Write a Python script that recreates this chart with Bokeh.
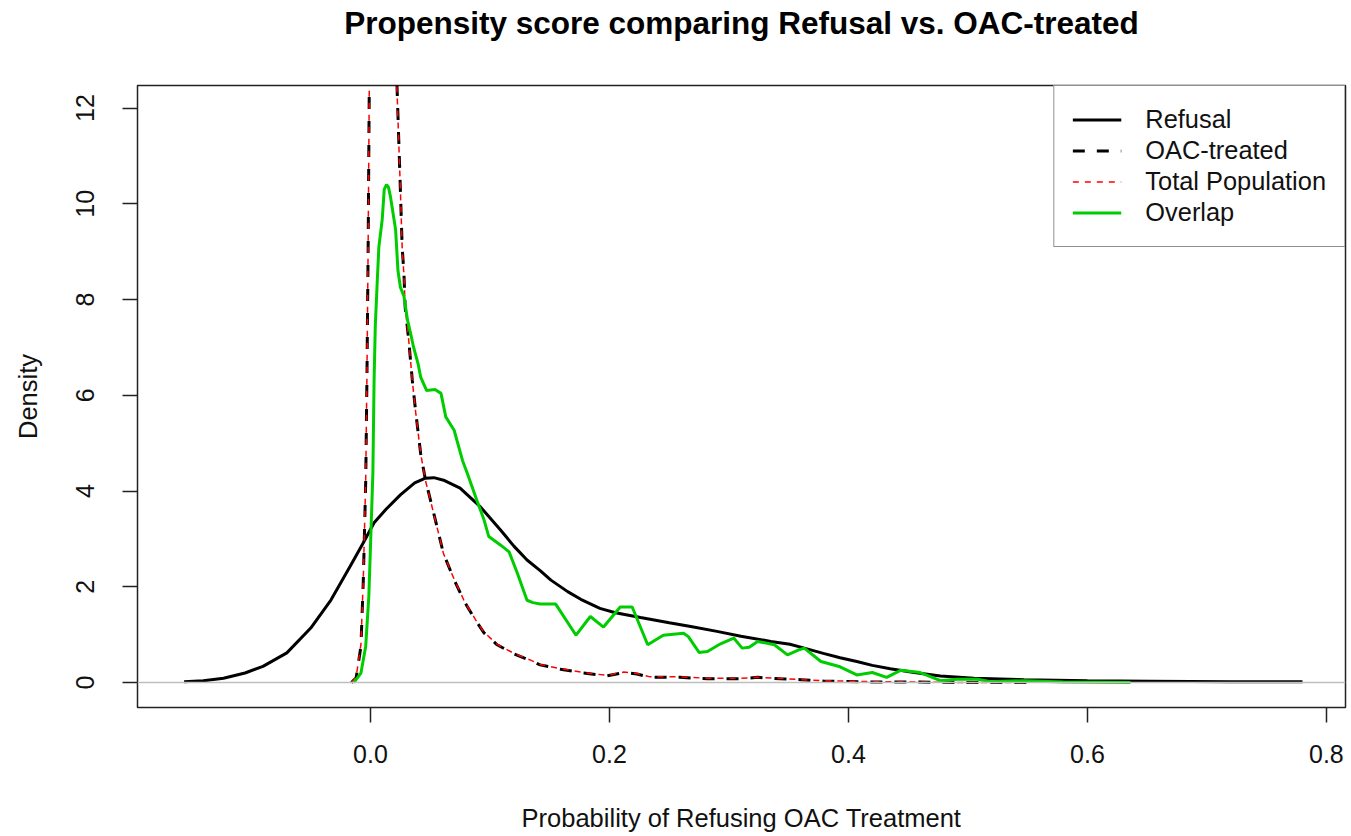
from bokeh.plotting import figure
from bokeh.models import Range1d, FixedTicker, Span, Legend, LegendItem, Title
from bokeh.embed import file_html
from bokeh.resources import INLINE

FONT = "Liberation Sans"

title_text = "Propensity score comparing Refusal vs. OAC-treated"
x_label = "Probability of Refusing OAC Treatment"
y_label = "Density"
series_names = ["Refusal", "OAC-treated", "Total Population", "Overlap"]
x_ticks = [0.0, 0.2, 0.4, 0.6, 0.8]
x_tick_labels = ["0.0", "0.2", "0.4", "0.6", "0.8"]
y_ticks = [0, 2, 4, 6, 8, 10, 12]

refusal_x = [-0.156, -0.14, -0.123, -0.105, -0.09, -0.07, -0.05, -0.033, -0.017, -0.006,
             0.003, 0.013, 0.025, 0.037, 0.046, 0.053, 0.062, 0.075, 0.092, 0.109,
             0.12, 0.131, 0.142, 0.151, 0.165, 0.176, 0.192, 0.205, 0.226, 0.25,
             0.268, 0.29, 0.31, 0.335, 0.351, 0.36, 0.379, 0.393, 0.407, 0.42,
             0.435, 0.455, 0.477, 0.505, 0.547, 0.6, 0.653, 0.72, 0.78]
refusal_y = [0.02, 0.04, 0.09, 0.2, 0.34, 0.62, 1.14, 1.73, 2.43, 2.92,
             3.34, 3.62, 3.92, 4.17, 4.27, 4.28, 4.22, 4.06, 3.67, 3.18,
             2.85, 2.56, 2.34, 2.14, 1.90, 1.74, 1.55, 1.46, 1.36, 1.25,
             1.17, 1.07, 0.97, 0.86, 0.80, 0.74, 0.61, 0.52, 0.44, 0.36,
             0.29, 0.21, 0.14, 0.09, 0.06, 0.04, 0.03, 0.02, 0.02]

oac_x = [-0.016, -0.012, -0.008, -0.006, -0.004, -0.003, -0.002, -0.001, 0.002, 0.008,
         0.014, 0.019, 0.022, 0.025, 0.0265, 0.028, 0.029, 0.032, 0.035, 0.038,
         0.042, 0.046, 0.053, 0.061, 0.07, 0.078, 0.081, 0.088, 0.095, 0.106,
         0.12, 0.134, 0.142, 0.159, 0.178, 0.198, 0.212, 0.223, 0.234, 0.259,
         0.282, 0.31, 0.324, 0.343, 0.36, 0.38, 0.42, 0.46, 0.5, 0.55]
oac_y = [0.0, 0.1, 0.76, 2.15, 4.2, 6.3, 9.0, 12.5, 17.0, 20.0,
         19.0, 15.0, 12.6, 10.3, 9.1, 8.54, 7.84, 7.15, 6.31, 5.62,
         4.78, 4.23, 3.53, 2.7, 2.15, 1.72, 1.59, 1.3, 1.04, 0.79,
         0.6, 0.46, 0.37, 0.28, 0.2, 0.14, 0.21, 0.18, 0.11, 0.11,
         0.08, 0.08, 0.11, 0.08, 0.06, 0.03, 0.01, 0.01, 0.0, 0.0]

total_x = [-0.016, -0.012, -0.008, -0.006, -0.004, -0.003, -0.002, -0.001, 0.002, 0.008,
           0.014, 0.019, 0.022, 0.025, 0.0265, 0.028, 0.029, 0.032, 0.035, 0.038,
           0.042, 0.046, 0.053, 0.061, 0.07, 0.078, 0.081, 0.088, 0.095, 0.106,
           0.12, 0.134, 0.142, 0.159, 0.178, 0.198, 0.212, 0.223, 0.234, 0.259,
           0.282, 0.31, 0.324, 0.343, 0.36, 0.38, 0.42, 0.46, 0.5, 0.55]
total_y = [0.0, 0.12, 0.8, 2.2, 4.25, 6.35, 9.05, 12.5, 16.8, 19.6,
           18.7, 14.8, 12.5, 10.3, 9.1, 8.5, 7.85, 7.15, 6.3, 5.6,
           4.78, 4.22, 3.52, 2.7, 2.16, 1.73, 1.6, 1.31, 1.05, 0.8,
           0.61, 0.47, 0.38, 0.29, 0.21, 0.15, 0.22, 0.19, 0.12, 0.12,
           0.09, 0.09, 0.11, 0.09, 0.06, 0.04, 0.02, 0.01, 0.0, 0.0]

overlap_x = [-0.014, -0.008, -0.004, -0.0014, 0.0, 0.002, 0.003, 0.004, 0.0056, 0.007,
             0.0098, 0.0115, 0.0134, 0.015, 0.0167, 0.021, 0.023, 0.025, 0.028, 0.031,
             0.0335, 0.036, 0.04, 0.042, 0.047, 0.054, 0.059, 0.063, 0.07, 0.077,
             0.081, 0.089, 0.095, 0.099, 0.109, 0.116, 0.123, 0.131, 0.136, 0.142,
             0.155, 0.172, 0.184, 0.195, 0.209, 0.219, 0.232, 0.245, 0.262, 0.266,
             0.275, 0.282, 0.293, 0.304, 0.311, 0.317, 0.324, 0.338, 0.349, 0.358,
             0.363, 0.377, 0.393, 0.407, 0.42, 0.432, 0.444, 0.46, 0.477, 0.491,
             0.508, 0.519, 0.547, 0.58, 0.636]
overlap_y = [0.0, 0.2, 0.76, 1.8, 2.85, 4.38, 6.3, 7.44, 8.35, 9.1,
             9.67, 10.3, 10.4, 10.35, 10.15, 9.46, 8.6, 8.26, 8.07, 7.57,
             7.3, 7.01, 6.64, 6.38, 6.1, 6.12, 6.04, 5.55, 5.27, 4.64,
             4.37, 3.81, 3.4, 3.05, 2.87, 2.73, 2.28, 1.72, 1.67, 1.64,
             1.64, 0.99, 1.38, 1.16, 1.58, 1.58, 0.79, 0.99, 1.03, 0.96,
             0.63, 0.65, 0.81, 0.93, 0.72, 0.74, 0.86, 0.79, 0.58, 0.68,
             0.72, 0.44, 0.33, 0.16, 0.21, 0.11, 0.26, 0.21, 0.04, 0.07,
             0.07, 0.02, 0.04, 0.01, 0.0]

p = figure(width=1348, height=834, output_backend="svg", toolbar_location=None,
           x_range=Range1d(-0.195, 0.816), y_range=Range1d(-0.52, 12.47),
           min_border_left=137, min_border_right=3, min_border_top=85, min_border_bottom=126,
           title=None)

p.background_fill_color = "white"
p.border_fill_color = "white"
p.outline_line_color = "#222222"
p.outline_line_width = 1.5
p.xgrid.visible = False
p.ygrid.visible = False

# invisible spacer between frame and title, then the title itself
spacer = Title(text=" ", text_font_size="2px", standoff=41, text_color="white")
p.add_layout(spacer, "above")
main_title = Title(text=title_text, align="center", standoff=0,
                   text_font=FONT, text_font_size="31.5px", text_font_style="bold",
                   text_color="black")
p.add_layout(main_title, "above")

for ax in (p.xaxis[0], p.yaxis[0]):
    ax.axis_line_color = None
    ax.major_tick_line_color = "#222222"
    ax.major_tick_line_width = 1.5
    ax.major_tick_out = 15
    ax.major_tick_in = 0
    ax.minor_tick_line_color = None
    ax.major_label_text_font = FONT
    ax.major_label_text_font_size = "25px"
    ax.major_label_text_color = "#111111"
    ax.axis_label_text_font = FONT
    ax.axis_label_text_font_size = "25.5px"
    ax.axis_label_text_font_style = "normal"
    ax.axis_label_text_color = "#111111"

p.xaxis[0].ticker = FixedTicker(ticks=x_ticks)
p.xaxis[0].major_label_overrides = {t: l for t, l in zip(x_ticks, x_tick_labels)}
p.xaxis[0].major_label_standoff = 22
p.xaxis[0].axis_label = x_label
p.xaxis[0].axis_label_standoff = 38

p.yaxis[0].ticker = FixedTicker(ticks=y_ticks)
p.yaxis[0].major_label_orientation = "vertical"
p.yaxis[0].major_label_standoff = 28
p.yaxis[0].axis_label = y_label
p.yaxis[0].axis_label_standoff = 32

r_ref = p.line(refusal_x, refusal_y, line_color="black", line_width=3)
p.add_layout(Span(location=0, dimension="width", line_color="#BEBEBE", line_width=1.5))
r_oac = p.line(oac_x, oac_y, line_color="black", line_width=3, line_dash="12 12")
r_tot = p.line(total_x, total_y, line_color="#FF0000", line_width=1.5, line_dash="6 6")
r_ovl = p.line(overlap_x, overlap_y, line_color="#00CD00", line_width=3)

legend = Legend(items=[LegendItem(label=series_names[0], renderers=[r_ref]),
                       LegendItem(label=series_names[1], renderers=[r_oac]),
                       LegendItem(label=series_names[2], renderers=[r_tot]),
                       LegendItem(label=series_names[3], renderers=[r_ovl])],
                location="top_right")
legend.margin = 0
legend.padding = 18
legend.spacing = 0
legend.glyph_width = 49
legend.glyph_height = 31
legend.label_height = 31
legend.label_standoff = 24
legend.label_text_font = FONT
legend.label_text_font_size = "25.4px"
legend.label_text_color = "#111111"
legend.border_line_color = "#222222"
legend.border_line_width = 1.5
legend.background_fill_color = "white"
legend.background_fill_alpha = 1.0
p.add_layout(legend, "center")

open("out.html", "w").write(file_html(p, INLINE))
